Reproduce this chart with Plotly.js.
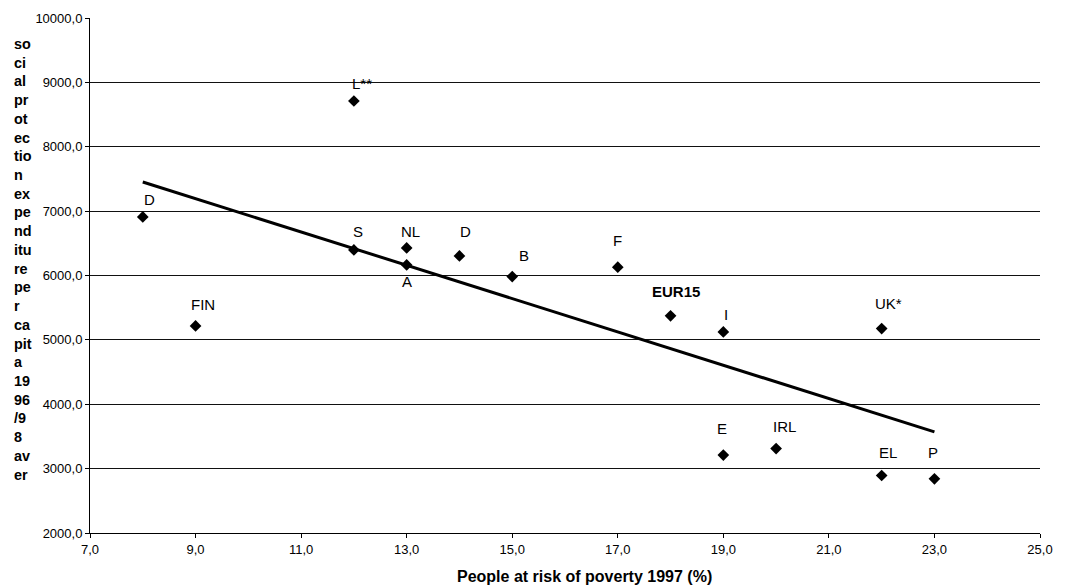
<!DOCTYPE html>
<html>
<head>
<meta charset="utf-8">
<script src="https://cdn.plot.ly/plotly-3.0.1.min.js"></script>
<style>html,body{margin:0;padding:0;background:#fff;}#chart{width:1085px;height:585px;}</style>
</head>
<body>
<div id="chart"></div>
<script>
// Data
var countries = ["D", "FIN", "L**", "S", "NL", "A", "D", "B", "F", "EUR15", "I", "UK*", "E", "IRL", "EL", "P"];
var povertyRate = [8, 9, 12, 12, 13, 13, 14, 15, 17, 18, 19, 22, 19, 20, 22, 23];
var spending = [6910, 5217, 8711, 6398, 6429, 6165, 6304, 5983, 6129, 5373, 5124, 5176, 3210, 3312, 2893, 2842];
var trendX = [8, 23];
var trendY = [7453, 3571];
var xTickVals = [7, 9, 11, 13, 15, 17, 19, 21, 23, 25];
var yTickVals = [2000, 3000, 4000, 5000, 6000, 7000, 8000, 9000, 10000];

// Label placement (pixels, relative to each point)
var labelShift = [[7,17],[7,21],[8,17],[4,18],[4,16],[0,-17],[6,24],[12,21],[0,27],[5,24],[3,17],[7,25],[-1,27],[8,22],[6,23],[-1,26]];

var FONT = "Liberation Sans, Arial, Helvetica, sans-serif";

var traces = [
  {
    x: trendX, y: trendY, mode: "lines", type: "scatter",
    line: {color: "#000", width: 3}, hoverinfo: "skip", showlegend: false
  },
  {
    x: povertyRate, y: spending, mode: "markers", type: "scatter",
    marker: {symbol: "diamond", size: 9, color: "#000"},
    text: countries, showlegend: false
  }
];

var annotations = countries.map(function (c, i) {
  return {
    x: povertyRate[i], y: spending[i], xref: "x", yref: "y",
    text: c === "EUR15" ? "<b>" + c + "</b>" : c,
    showarrow: false, xshift: labelShift[i][0], yshift: labelShift[i][1],
    font: {family: FONT, size: 15, color: "#000"}
  };
});

var yTitle = ["so","ci","al","pr","ot","ec","tio","n","ex","pe","nd","itu","re","pe","r","ca","pit","a","19","96","/9","8","av","er"];
annotations.push({
  xref: "paper", yref: "paper", x: -0.082, y: 0.531, xanchor: "left", yanchor: "middle",
  align: "left", showarrow: false,
  text: "<b>" + yTitle.join("<br>") + "</b>",
  font: {family: FONT, size: 14.4, color: "#000"}
});
annotations.push({
  xref: "paper", yref: "paper", x: 0.52, y: -0.0835, xanchor: "center", yanchor: "middle",
  showarrow: false, text: "<b>People at risk of poverty 1997 (%)</b>",
  font: {family: FONT, size: 16, color: "#000"}
});

var layout = {
  width: 1085, height: 585,
  margin: {l: 90, r: 45, t: 18, b: 52},
  paper_bgcolor: "#fff", plot_bgcolor: "#fff",
  separators: ",.",
  showlegend: false,
  font: {family: FONT, size: 13, color: "#000"},
  xaxis: {
    range: [7, 25], tickvals: xTickVals, tickformat: ".1f",
    showgrid: false, zeroline: false,
    showline: true, linecolor: "#000", linewidth: 1,
    ticks: "outside", ticklen: 4, tickcolor: "#000",
    tickfont: {family: FONT, size: 13, color: "#000"}
  },
  yaxis: {
    range: [2000, 10000], tickvals: yTickVals, tickformat: ".1f",
    showgrid: true, gridcolor: "#111", gridwidth: 1, zeroline: false,
    showline: true, linecolor: "#000", linewidth: 1,
    ticks: "outside", ticklen: 4, tickcolor: "#000",
    tickfont: {family: FONT, size: 13, color: "#000"}
  },
  annotations: annotations
};

Plotly.newPlot("chart", traces, layout, {displayModeBar: false, staticPlot: true});
</script>
</body>
</html>
